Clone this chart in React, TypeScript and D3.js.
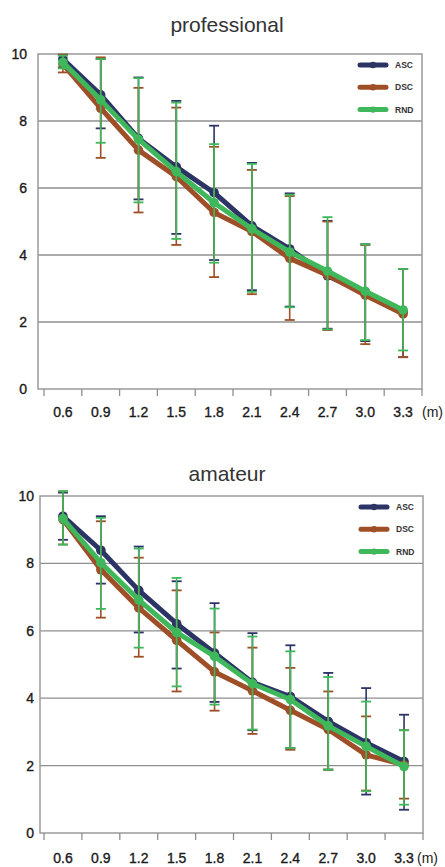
import React, { useEffect, useRef } from "react";
import * as d3 from "d3";

// distance categories (m)
const categories = ["0.6", "0.9", "1.2", "1.5", "1.8", "2.1", "2.4", "2.7", "3.0", "3.3"];
const seriesNames = ["ASC", "DSC", "RND"];
const seriesColors = ["#2c3465", "#9e4f27", "#3fb85c"];
const yTicks = [0, 2, 4, 6, 8, 10];

// professional
const proAsc = [9.85, 8.78, 7.48, 6.63, 5.86, 4.87, 4.18, 3.38, 2.85, 2.3];
const proDsc = [9.7, 8.38, 7.13, 6.34, 5.27, 4.7, 3.9, 3.4, 2.8, 2.24];
const proRnd = [9.75, 8.63, 7.45, 6.49, 5.56, 4.78, 4.09, 3.52, 2.92, 2.36];
const proAscHi = [9.98, 9.85, 9.3, 8.6, 7.86, 6.75, 5.84, 5.02, 4.32, 3.58];
const proAscLo = [9.6, 7.78, 5.66, 4.63, 3.85, 2.95, 2.46, 1.8, 1.43, 0.95];
const proDscHi = [9.98, 9.9, 8.99, 8.4, 7.23, 6.54, 5.76, 5.0, 4.3, 3.58];
const proDscLo = [9.45, 6.9, 5.27, 4.3, 3.34, 2.83, 2.06, 1.76, 1.34, 0.95];
const proRndHi = [9.95, 9.85, 9.28, 8.55, 7.31, 6.72, 5.8, 5.13, 4.32, 3.58];
const proRndLo = [9.57, 7.35, 5.57, 4.48, 3.77, 2.9, 2.44, 1.78, 1.46, 1.15];

// amateur
const amaAsc = [9.4, 8.39, 7.2, 6.21, 5.34, 4.47, 4.05, 3.31, 2.68, 2.12];
const amaDsc = [9.3, 7.81, 6.68, 5.72, 4.78, 4.22, 3.64, 3.07, 2.32, 2.02];
const amaRnd = [9.33, 8.02, 6.92, 5.95, 5.24, 4.43, 3.96, 3.18, 2.57, 1.97];
const amaAscHi = [10.1, 9.4, 8.5, 7.47, 6.82, 5.93, 5.57, 4.75, 4.3, 3.51];
const amaAscLo = [8.7, 7.4, 5.95, 4.88, 3.89, 3.05, 2.52, 1.88, 1.14, 0.69];
const amaDscHi = [10.14, 9.25, 8.17, 7.2, 5.95, 5.5, 4.9, 4.2, 3.46, 3.05];
const amaDscLo = [8.56, 6.39, 5.23, 4.2, 3.63, 2.94, 2.47, 1.88, 1.26, 1.02];
const amaRndHi = [10.14, 9.35, 8.44, 7.57, 6.66, 5.83, 5.39, 4.63, 3.9, 3.05];
const amaRndLo = [8.56, 6.65, 5.5, 4.35, 3.81, 3.07, 2.52, 1.88, 1.24, 0.84];

const panels = [
  {
    title: "professional",
    series: [
      { mean: proAsc, hi: proAscHi, lo: proAscLo },
      { mean: proDsc, hi: proDscHi, lo: proDscLo },
      { mean: proRnd, hi: proRndHi, lo: proRndLo },
    ],
    box: { left: 38, right: 422, top: 54, bottom: 389, bandStart: 44, labelRight: 27, titleY: 32, xLabelDy: 28, unitX: 422 },
  },
  {
    title: "amateur",
    series: [
      { mean: amaAsc, hi: amaAscHi, lo: amaAscLo },
      { mean: amaDsc, hi: amaDscHi, lo: amaDscLo },
      { mean: amaRnd, hi: amaRndHi, lo: amaRndLo },
    ],
    box: { left: 40, right: 423, top: 496, bottom: 833, bandStart: 44, labelRight: 34, titleY: 481, xLabelDy: 30, unitX: 417 },
  },
];

const FONT = "'Liberation Sans', Arial, Helvetica, sans-serif";

function drawPanel(svg, panel) {
  const b = panel.box;
  const g = svg.append("g");

  const x = d3.scaleBand().domain(categories).range([b.bandStart, b.right]);
  const y = d3.scaleLinear().domain([0, 10]).range([b.bottom, b.top]);
  const cx = (d) => x(d) + x.bandwidth() / 2;

  // title
  g.append("text")
    .attr("x", 227)
    .attr("y", b.titleY)
    .attr("text-anchor", "middle")
    .attr("font-family", FONT)
    .attr("font-size", 21)
    .attr("fill", "#333")
    .text(panel.title);

  // gridlines
  g.selectAll(".grid")
    .data(yTicks.filter((t) => t > 0 && t < 10))
    .enter()
    .append("line")
    .attr("x1", b.left)
    .attr("x2", b.right)
    .attr("y1", (d) => y(d))
    .attr("y2", (d) => y(d))
    .attr("stroke", "#8f8f8f")
    .attr("stroke-width", 1.3);

  // frame
  g.append("rect")
    .attr("x", b.left)
    .attr("y", b.top)
    .attr("width", b.right - b.left)
    .attr("height", b.bottom - b.top)
    .attr("fill", "none")
    .attr("stroke", "#9a9a9a")
    .attr("stroke-width", 1.5);

  // y labels
  g.selectAll(".ylab")
    .data(yTicks)
    .enter()
    .append("text")
    .attr("x", b.labelRight)
    .attr("y", (d) => y(d))
    .attr("dy", "0.35em")
    .attr("text-anchor", "end")
    .attr("font-family", FONT)
    .attr("font-size", 14)
    .attr("fill", "#1a1a1a")
    .attr("stroke", "#1a1a1a")
    .attr("stroke-width", 0.35)
    .text((d) => d);

  // x ticks on band boundaries
  const bounds = categories.map((c) => x(c)).concat([b.right]);
  g.selectAll(".xtick")
    .data(bounds)
    .enter()
    .append("line")
    .attr("x1", (d) => d)
    .attr("x2", (d) => d)
    .attr("y1", b.bottom)
    .attr("y2", b.bottom + 7)
    .attr("stroke", "#8f8f8f")
    .attr("stroke-width", 1.3);

  g.selectAll(".xlab")
    .data(categories)
    .enter()
    .append("text")
    .attr("x", (d) => cx(d))
    .attr("y", b.bottom + b.xLabelDy)
    .attr("text-anchor", "middle")
    .attr("font-family", FONT)
    .attr("font-size", 14)
    .attr("fill", "#1a1a1a")
    .attr("stroke", "#1a1a1a")
    .attr("stroke-width", 0.35)
    .text((d) => d);

  g.append("text")
    .attr("x", b.unitX)
    .attr("y", b.bottom + b.xLabelDy)
    .attr("font-family", FONT)
    .attr("font-size", 14)
    .attr("fill", "#1a1a1a")
    .text("(m)");

  const line = d3
    .line()
    .x((d, i) => cx(categories[i]))
    .y((d) => y(d));

  panel.series.forEach((s, k) => {
    const color = seriesColors[k];
    const sg = g.append("g");

    // error bars
    categories.forEach((c, i) => {
      const xc = cx(c);
      sg.append("line")
        .attr("x1", xc).attr("x2", xc)
        .attr("y1", y(s.hi[i])).attr("y2", y(s.lo[i]))
        .attr("stroke", color).attr("stroke-width", 1.6);
      [s.hi[i], s.lo[i]].forEach((v) => {
        sg.append("line")
          .attr("x1", xc - 5).attr("x2", xc + 5)
          .attr("y1", y(v)).attr("y2", y(v))
          .attr("stroke", color).attr("stroke-width", 1.8);
      });
    });

    sg.append("path")
      .datum(s.mean)
      .attr("d", line)
      .attr("fill", "none")
      .attr("stroke", color)
      .attr("stroke-width", 5)
      .attr("stroke-linejoin", "round")
      .attr("stroke-linecap", "round");

    sg.selectAll("circle")
      .data(s.mean)
      .enter()
      .append("circle")
      .attr("cx", (d, i) => cx(categories[i]))
      .attr("cy", (d) => y(d))
      .attr("r", 4.8)
      .attr("fill", color);
  });

  // legend
  seriesNames.forEach((name, k) => {
    const ly = b.top + 11 + k * 22.3;
    const lg = g.append("g");
    lg.append("line")
      .attr("x1", b.right - 62).attr("x2", b.right - 36)
      .attr("y1", ly).attr("y2", ly)
      .attr("stroke", seriesColors[k])
      .attr("stroke-width", 5)
      .attr("stroke-linecap", "round");
    lg.append("circle")
      .attr("cx", b.right - 49).attr("cy", ly)
      .attr("r", 3.2)
      .attr("fill", seriesColors[k]);
    lg.append("text")
      .attr("x", b.right - 27)
      .attr("y", ly)
      .attr("dy", "0.35em")
      .attr("font-family", FONT)
      .attr("font-size", 8.5)
      .attr("font-weight", "bold")
      .attr("fill", "#333")
      .text(name);
  });
}

export default function App() {
  const svgRef = useRef(null);

  useEffect(() => {
    const svg = d3.select(svgRef.current);
    svg.selectAll("*").remove();
    panels.forEach((p) => drawPanel(svg, p));
  }, []);

  return (
    <svg
      ref={svgRef}
      width={445}
      height={867}
      style={{ position: "absolute", left: 0, top: 0, background: "#fff" }}
    />
  );
}
